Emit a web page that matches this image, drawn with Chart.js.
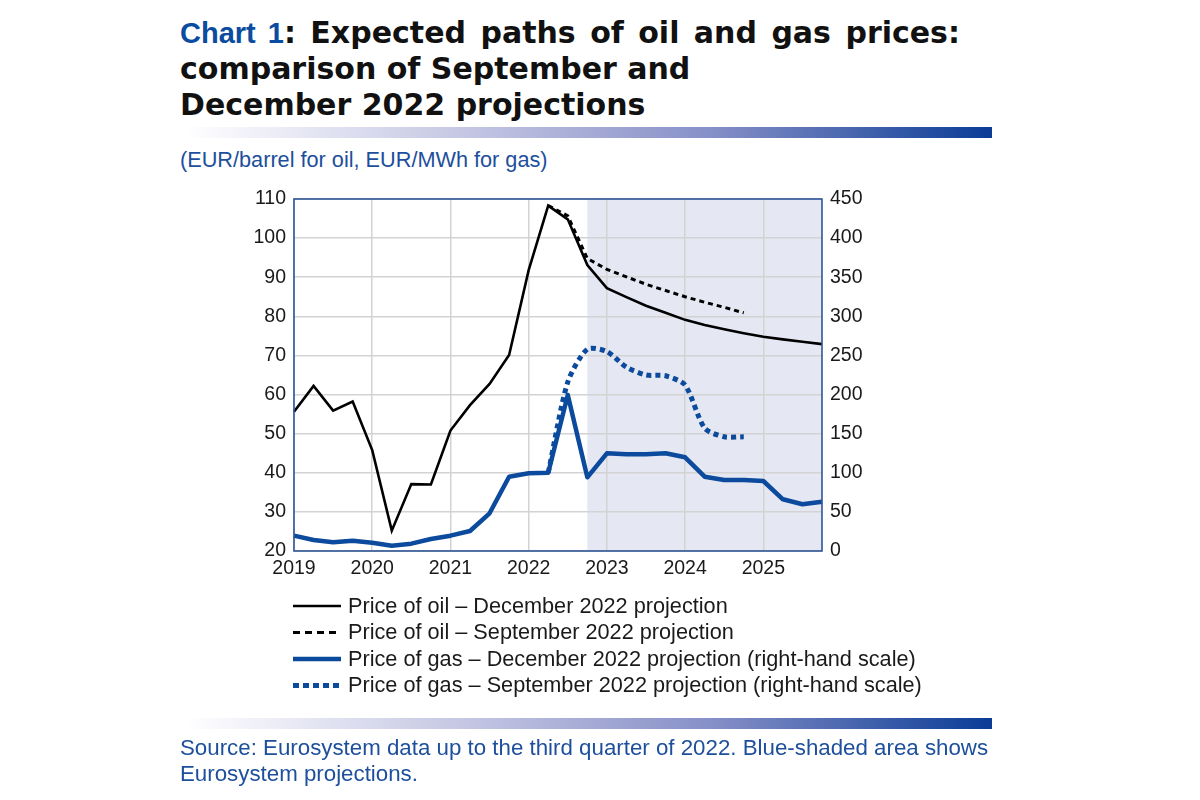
<!DOCTYPE html>
<html>
<head>
<meta charset="utf-8">
<script src="https://cdn.jsdelivr.net/npm/chart.js@4.4.1/dist/chart.umd.min.js"></script>
<style>
  html, body { margin: 0; padding: 0; background: #ffffff; }
  body { width: 1200px; height: 800px; position: relative; overflow: hidden; font-family: "Liberation Sans", Arial, sans-serif; }
  #title { position: absolute; left: 180px; top: 15px; font-family: "DejaVu Sans", sans-serif; font-weight: bold; font-size: 30px; line-height: 36px; color: #111; white-space: nowrap; }
  #title .l1 { word-spacing: 4px; }
  #title .blue { color: #0a4ca0; font-family: "Liberation Sans", Arial, sans-serif; font-size: 29px; }
  .bar { position: absolute; left: 185px; width: 807px; height: 11px;
         background: linear-gradient(to right, #ffffff 0%, #c4c6e3 35%, #8790c8 65%, #0a3c96 100%); }
  #subtitle { position: absolute; left: 180px; top: 147px; font-size: 21.7px; color: #1d4f9c; white-space: nowrap; }
  #source { position: absolute; left: 180px; top: 735px; font-size: 22.3px; line-height: 26px; color: #1d4f9c; white-space: nowrap; }
  #c { position: absolute; left: 0; top: 0; }
</style>
</head>
<body>
<div id="title"><span class="l1"><span class="blue">Chart 1</span>: Expected paths of oil and gas prices:</span><br>comparison of September and<br>December 2022 projections</div>
<div class="bar" style="top:127px"></div>
<div id="subtitle">(EUR/barrel for oil, EUR/MWh for gas)</div>
<canvas id="c" width="1200" height="800"></canvas>
<div class="bar" style="top:718px"></div>
<div id="source">Source: Eurosystem data up to the third quarter of 2022. Blue-shaded area shows<br>Eurosystem projections.</div>
<script>
// ---- Data (quarterly, 2019 Q1 – 2025 Q4) ----
const quarters = [
  '2019Q1','2019Q2','2019Q3','2019Q4',
  '2020Q1','2020Q2','2020Q3','2020Q4',
  '2021Q1','2021Q2','2021Q3','2021Q4',
  '2022Q1','2022Q2','2022Q3','2022Q4',
  '2023Q1','2023Q2','2023Q3','2023Q4',
  '2024Q1','2024Q2','2024Q3','2024Q4',
  '2025Q1','2025Q2','2025Q3','2025Q4'
];
const yearTicks = ['2019','2020','2021','2022','2023','2024','2025'];
const projectionStart = '2022Q4';

// Oil price, EUR/barrel (left scale)
const oilDec = [55.6, 62.2, 55.9, 58.2, 45.8, 25.2, 37.1, 37.0, 50.8, 57.3, 62.7, 70.1,
                91.8, 108.3, 104.8, 93.1, 87.2, 84.9, 82.7, 80.9, 79.1, 77.8, 76.7, 75.7,
                74.8, 74.1, 73.5, 72.9];
const oilSep = [null, null, null, null, null, null, null, null, null, null, null, null,
                null, 108.3, 105.7, 94.8, 92.0, 90.1, 88.2, 86.6, 85.0, 83.6, 82.3, 80.9,
                null, null, null, null];
// Gas price, EUR/MWh (right scale)
const gasDec = [19.6, 14.1, 11.1, 13.2, 10.6, 6.8, 9.4, 15.3, 19.6, 25.6, 48.2, 95.0,
                99.3, 100.1, 199.4, 94.2, 124.9, 123.6, 123.6, 124.9, 119.8, 95.0, 90.8, 90.8,
                89.5, 66.1, 59.7, 63.0];
const gasSep = [null, null, null, null, null, null, null, null, null, null, null, null,
                null, 100.1, 216.0, 258.0, 255.0, 235.0, 225.0, 224.0, 212.0, 157.0, 146.0, 146.0,
                null, null, null, null];

const seriesNames = [
  'Price of oil \u2013 December 2022 projection',
  'Price of oil \u2013 September 2022 projection',
  'Price of gas \u2013 December 2022 projection (right-hand scale)',
  'Price of gas \u2013 September 2022 projection (right-hand scale)'
];

const BLUE = '#0b4a9c';
const FONT = '"Liberation Sans", Arial, sans-serif';

const shadePlugin = {
  id: 'shade',
  beforeDraw(chart) {
    const { ctx, chartArea: a, scales: { x } } = chart;
    const x0 = x.getPixelForValue(quarters.indexOf(projectionStart));
    ctx.save();
    ctx.fillStyle = '#e5e7f3';
    ctx.fillRect(x0, a.top, a.right - x0, a.bottom - a.top);
    ctx.restore();
  }
};

const framePlugin = {
  id: 'frame',
  afterDatasetsDraw(chart) {
    const { ctx, chartArea: a } = chart;
    ctx.save();
    ctx.strokeStyle = '#2f5597';
    ctx.lineWidth = 1.6;
    ctx.strokeRect(a.left, a.top, a.right - a.left, a.bottom - a.top);
    ctx.restore();
  }
};

const legendPlugin = {
  id: 'customLegend',
  afterDraw(chart) {
    const { ctx, chartArea: a } = chart;
    const x0 = a.left - 1, x1 = a.left + 47, tx = a.left + 54;
    const rows = [55, 81.5, 108, 134.5];
    ctx.save();
    chart.data.datasets.forEach((ds, i) => {
      const y = a.bottom + rows[i];
      ctx.beginPath();
      ctx.strokeStyle = ds.borderColor;
      ctx.lineWidth = ds.legendWidth;
      ctx.setLineDash(ds.legendDash);
      ctx.lineCap = 'butt';
      ctx.moveTo(x0, y);
      ctx.lineTo(x1, y);
      ctx.stroke();
      ctx.setLineDash([]);
      ctx.fillStyle = '#1a1a1a';
      ctx.font = '21.7px ' + FONT;
      ctx.textBaseline = 'middle';
      ctx.textAlign = 'left';
      ctx.fillText(ds.label, tx, y + 1);
    });
    ctx.restore();
  }
};

new Chart(document.getElementById('c'), {
  type: 'line',
  data: {
    labels: quarters,
    datasets: [
      { label: seriesNames[0], data: oilDec, yAxisID: 'y', borderColor: '#000000', borderWidth: 2.6,
        borderJoinStyle: 'miter', pointRadius: 0, tension: 0, legendWidth: 2.6, legendDash: [], order: 1 },
      { label: seriesNames[1], data: oilSep, yAxisID: 'y', borderColor: '#000000', borderWidth: 3,
        borderDash: [5, 4], pointRadius: 0, tension: 0, legendWidth: 3, legendDash: [7, 5], order: 2 },
      { label: seriesNames[2], data: gasDec, yAxisID: 'y2', borderColor: BLUE, borderWidth: 4.5,
        borderJoinStyle: 'round', pointRadius: 0, tension: 0, legendWidth: 4.5, legendDash: [], order: 4 },
      { label: seriesNames[3], data: gasSep, yAxisID: 'y2', borderColor: BLUE, borderWidth: 5,
        borderDash: [5, 4], pointRadius: 0, tension: 0.25, legendWidth: 5, legendDash: [6, 4], order: 3 }
    ]
  },
  options: {
    responsive: false,
    animation: false,
    events: [],
    layout: { padding: { left: 200, right: 298, top: 199, bottom: 209 } },
    plugins: { legend: { display: false }, tooltip: { enabled: false }, title: { display: false } },
    scales: {
      x: {
        type: 'category',
        offset: false,
        border: { display: false },
        grid: {
          drawTicks: false,
          lineWidth: 1.5,
          color: (c) => (c.index % 4 === 0 ? '#d3d3d3' : 'rgba(0,0,0,0)')
        },
        ticks: {
          autoSkip: false, maxRotation: 0, minRotation: 0, padding: 6,
          color: '#1a1a1a', font: { family: FONT, size: 19.5 },
          callback: (v, i) => (i % 4 === 0 ? yearTicks[i / 4] : '')
        },
        afterFit: (s) => { s.height = 40; }
      },
      y: {
        position: 'left', min: 20, max: 110,
        border: { display: false },
        grid: { drawTicks: false, lineWidth: 1.5, color: '#d3d3d3' },
        ticks: { stepSize: 10, padding: 8, color: '#1a1a1a', font: { family: FONT, size: 19.5 } },
        afterFit: (s) => { s.width = 94; }
      },
      y2: {
        position: 'right', min: 0, max: 450,
        border: { display: false },
        grid: { drawOnChartArea: false, drawTicks: false },
        ticks: { stepSize: 50, padding: 8, color: '#1a1a1a', font: { family: FONT, size: 19.5 } },
        afterFit: (s) => { s.width = 80; }
      }
    }
  },
  plugins: [shadePlugin, framePlugin, legendPlugin]
});
</script>
</body>
</html>
